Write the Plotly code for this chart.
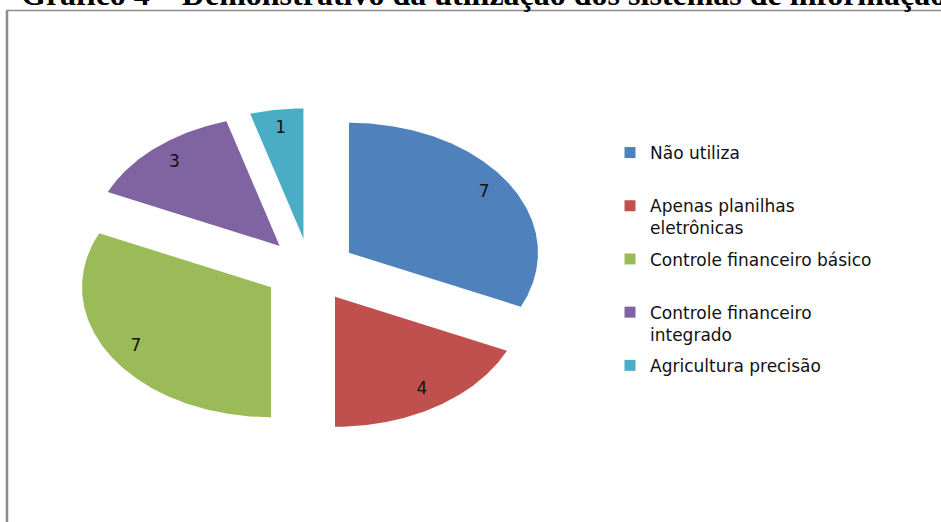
import numpy as np
import plotly.graph_objects as go

# --- data -----------------------------------------------------------------
categories = [
    "Não utiliza",
    "Apenas planilhas eletrônicas",
    "Controle financeiro básico",
    "Controle financeiro integrado",
    "Agricultura precisão",
]
values = [7, 4, 7, 3, 1]
legend_labels = [
    "Não utiliza",
    "Apenas planilhas<br>eletrônicas",
    "Controle financeiro básico",
    "Controle financeiro<br>integrado",
    "Agricultura precisão",
]
colors = ["#4F81BD", "#C0504D", "#9BBB59", "#8064A2", "#4BACC6"]
title_text = "Gráfico 4 – Demonstrativo da utilização dos sistemas de informação"

# --- layout geometry (pixels) ---------------------------------------------
W, H = 941, 522
CX, CY = 310, 270          # pie centre
RX, RY = 189, 130          # horizontal / vertical radius -> elliptical pie
EXPLODE = 0.245            # slice offset, fraction of the radius
LABEL_R = 0.85             # label distance from slice tip, fraction of radius
FONT = "DejaVu Sans"

fig = go.Figure()

total = float(sum(values))
start = 0.0
for cat, val, col in zip(categories, values, colors):
    sweep = 360.0 * val / total
    mid = np.radians(start + sweep / 2)
    # tip of the exploded slice (unit-circle coordinates, clockwise from 12h)
    ox, oy = EXPLODE * np.sin(mid), EXPLODE * np.cos(mid)
    ang = np.radians(np.linspace(start, start + sweep, max(int(sweep * 2), 4)))
    xs = np.concatenate([[ox], ox + np.sin(ang), [ox]])
    ys = np.concatenate([[oy], oy + np.cos(ang), [oy]])
    fig.add_trace(go.Scatter(
        x=xs, y=ys, mode="lines", fill="toself", fillcolor=col,
        line=dict(width=0, color=col), showlegend=False,
        name=cat, hoverinfo="name",
    ))
    fig.add_trace(go.Scatter(
        x=[ox + LABEL_R * np.sin(mid)], y=[oy + LABEL_R * np.cos(mid)],
        mode="text", text=[str(val)], showlegend=False, hoverinfo="skip",
        textfont=dict(family=FONT, size=17, color="#111111"),
    ))
    start += sweep

# legend entries
for i, (lab, col) in enumerate(zip(legend_labels, colors)):
    if "<br>" not in lab:
        lab = lab + "<br>\u00a0"
    fig.add_trace(go.Scatter(
        x=[None], y=[None], mode="markers", name=lab, legendgroup=f"g{i}",
        marker=dict(symbol="square", size=11, color=col),
    ))

fig.update_xaxes(range=[-CX / RX, (W - CX) / RX], visible=False, fixedrange=True)
fig.update_yaxes(range=[-(H - CY) / RY, CY / RY], visible=False, fixedrange=True)

fig.update_layout(
    width=W, height=H,
    margin=dict(l=0, r=0, t=0, b=0),
    paper_bgcolor="white", plot_bgcolor="white",
    showlegend=True,
    legend=dict(
        x=610 / W, y=1 - 135 / H, xanchor="left", yanchor="top",
        font=dict(family=FONT, size=17, color="#111111"),
        valign="top", tracegroupgap=6, bgcolor="rgba(0,0,0,0)",
    ),
    shapes=[
        dict(type="line", xref="paper", yref="paper",
             x0=7 / W, x1=1, y0=1 - 10.5 / H, y1=1 - 10.5 / H,
             line=dict(color="#8c8c8c", width=1.5)),
        dict(type="line", xref="paper", yref="paper",
             x0=7 / W, x1=7 / W, y0=0, y1=1 - 10 / H,
             line=dict(color="#8c8c8c", width=2.5)),
    ],
    annotations=[
        dict(text=f"<b>{title_text}</b>", xref="paper", yref="paper",
             x=19 / W, y=1 - 14 / H, xanchor="left", yanchor="bottom",
             showarrow=False,
             font=dict(family="Liberation Serif", size=32, color="#000000")),
    ],
)

fig.write_html("out.html")
